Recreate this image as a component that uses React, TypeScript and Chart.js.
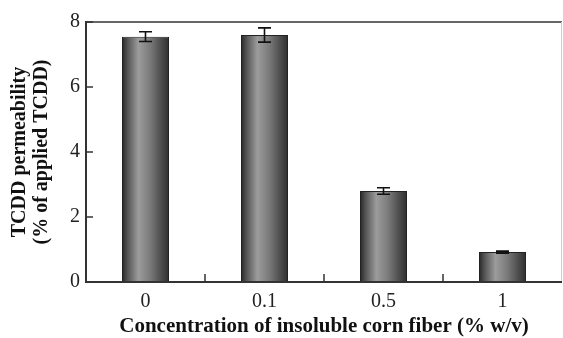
import React, { useEffect, useRef } from 'react';
import { Chart, registerables } from 'chart.js';

Chart.register(...registerables);

const categories = ['0', '0.1', '0.5', '1'];
const permeability = [7.55, 7.6, 2.8, 0.92];
const errors = [0.15, 0.22, 0.1, 0.03];
const yTicks = [0, 2, 4, 6, 8];
const yTitle = ['TCDD permeability', '(% of applied TCDD)'];
const xTitle = 'Concentration of insoluble corn fiber (% w/v)';

const SERIF = "'Liberation Serif', 'Times New Roman', Times, serif";
const BAR_PCT = 0.395;

const framePlugin = {
  id: 'frame',
  afterDatasetsDraw(chart: any) {
    const { ctx } = chart;
    const xs = chart.scales.x;
    const ys = chart.scales.y;
    ctx.save();
    ctx.strokeStyle = '#111';
    ctx.lineWidth = 1.6;
    permeability.forEach((v, i) => {
      const e = errors[i];
      const x = xs.getPixelForValue(i);
      const yT = ys.getPixelForValue(v + e);
      const yB = ys.getPixelForValue(v - e);
      const cap = 6.5;
      ctx.beginPath();
      ctx.moveTo(x, yT);
      ctx.lineTo(x, yB);
      ctx.moveTo(x - cap, yT);
      ctx.lineTo(x + cap, yT);
      ctx.moveTo(x - cap, yB);
      ctx.lineTo(x + cap, yB);
      ctx.stroke();
    });
    ctx.restore();
  },
  afterDraw(chart: any) {
    const { ctx, chartArea: ca } = chart;
    const xs = chart.scales.x;
    const ys = chart.scales.y;
    ctx.save();
    // top border
    ctx.strokeStyle = '#666';
    ctx.lineWidth = 2;
    ctx.beginPath();
    ctx.moveTo(ca.left, ca.top);
    ctx.lineTo(ca.right, ca.top);
    ctx.stroke();
    // right border (faint)
    ctx.strokeStyle = '#ccc';
    ctx.lineWidth = 1;
    ctx.beginPath();
    ctx.moveTo(ca.right - 0.5, ca.top);
    ctx.lineTo(ca.right - 0.5, ca.bottom);
    ctx.stroke();
    // left + bottom axes
    ctx.strokeStyle = '#333';
    ctx.lineWidth = 2;
    ctx.beginPath();
    ctx.moveTo(ca.left, ca.top - 1);
    ctx.lineTo(ca.left, ca.bottom);
    ctx.lineTo(ca.right, ca.bottom);
    ctx.stroke();
    // inward ticks
    ctx.lineWidth = 1.5;
    yTicks.forEach((t) => {
      const y = ys.getPixelForValue(t);
      ctx.beginPath();
      ctx.moveTo(ca.left, y);
      ctx.lineTo(ca.left + 7, y);
      ctx.stroke();
    });
    for (let i = 0; i < categories.length - 1; i++) {
      const x = (xs.getPixelForValue(i) + xs.getPixelForValue(i + 1)) / 2;
      ctx.beginPath();
      ctx.moveTo(x, ca.bottom);
      ctx.lineTo(x, ca.bottom - 8);
      ctx.stroke();
    }
    ctx.restore();
  },
};

export default function App() {
  const ref = useRef<HTMLCanvasElement>(null);
  useEffect(() => {
    const canvas = ref.current!;
    const chart = new Chart(canvas, {
      type: 'bar',
      data: {
        labels: categories,
        datasets: [
          {
            data: permeability,
            backgroundColor: (c: any) => {
              const ch = c.chart;
              const xs = ch.scales && ch.scales.x;
              if (!xs || c.dataIndex === undefined || !ch.chartArea) return '#777';
              const cx = xs.getPixelForValue(c.dataIndex);
              const w = (xs.width / categories.length) * BAR_PCT;
              const g = ch.ctx.createLinearGradient(cx - w / 2, 0, cx + w / 2, 0);
              g.addColorStop(0, '#262626');
              g.addColorStop(0.12, '#555');
              g.addColorStop(0.35, '#9c9c9c');
              g.addColorStop(0.6, '#7a7a7a');
              g.addColorStop(0.85, '#4a4a4a');
              g.addColorStop(1, '#2e2e2e');
              return g;
            },
            borderColor: '#222',
            borderWidth: 1,
            categoryPercentage: 1,
            barPercentage: BAR_PCT,
          },
        ],
      },
      options: {
        responsive: false,
        animation: false,
        layout: { padding: { left: 0, top: 22, right: 1, bottom: 0 } },
        plugins: { legend: { display: false }, tooltip: { enabled: false } },
        scales: {
          x: {
            grid: { display: false, drawTicks: false },
            border: { display: false },
            ticks: { color: '#222', font: { family: SERIF, size: 20 }, padding: 8 },
            title: {
              display: true,
              text: xTitle,
              color: '#111',
              font: { family: SERIF, size: 21, weight: 'bold', lineHeight: 1.0 },
              padding: { top: 0, bottom: 1 },
            },
            afterFit: (s: any) => {
              s.height = 56;
            },
          },
          y: {
            min: 0,
            max: 8,
            grid: { display: false, drawTicks: false },
            border: { display: false },
            ticks: { stepSize: 2, color: '#222', font: { family: SERIF, size: 20 }, padding: 6 },
            title: {
              display: true,
              text: yTitle,
              color: '#111',
              font: { family: SERIF, size: 20, weight: 'bold', lineHeight: 1.1 },
              padding: { top: 9, bottom: 0 },
            },
            afterFit: (s: any) => {
              s.width = 86;
            },
          },
        },
      },
      plugins: [framePlugin],
    } as any);
    return () => chart.destroy();
  }, []);
  return (
    <div style={{ position: 'fixed', left: 0, top: 0, width: 563, height: 338, overflow: 'hidden', background: '#fff' }}>
      <canvas ref={ref} width={563} height={338} style={{ display: 'block' }} />
    </div>
  );
}
